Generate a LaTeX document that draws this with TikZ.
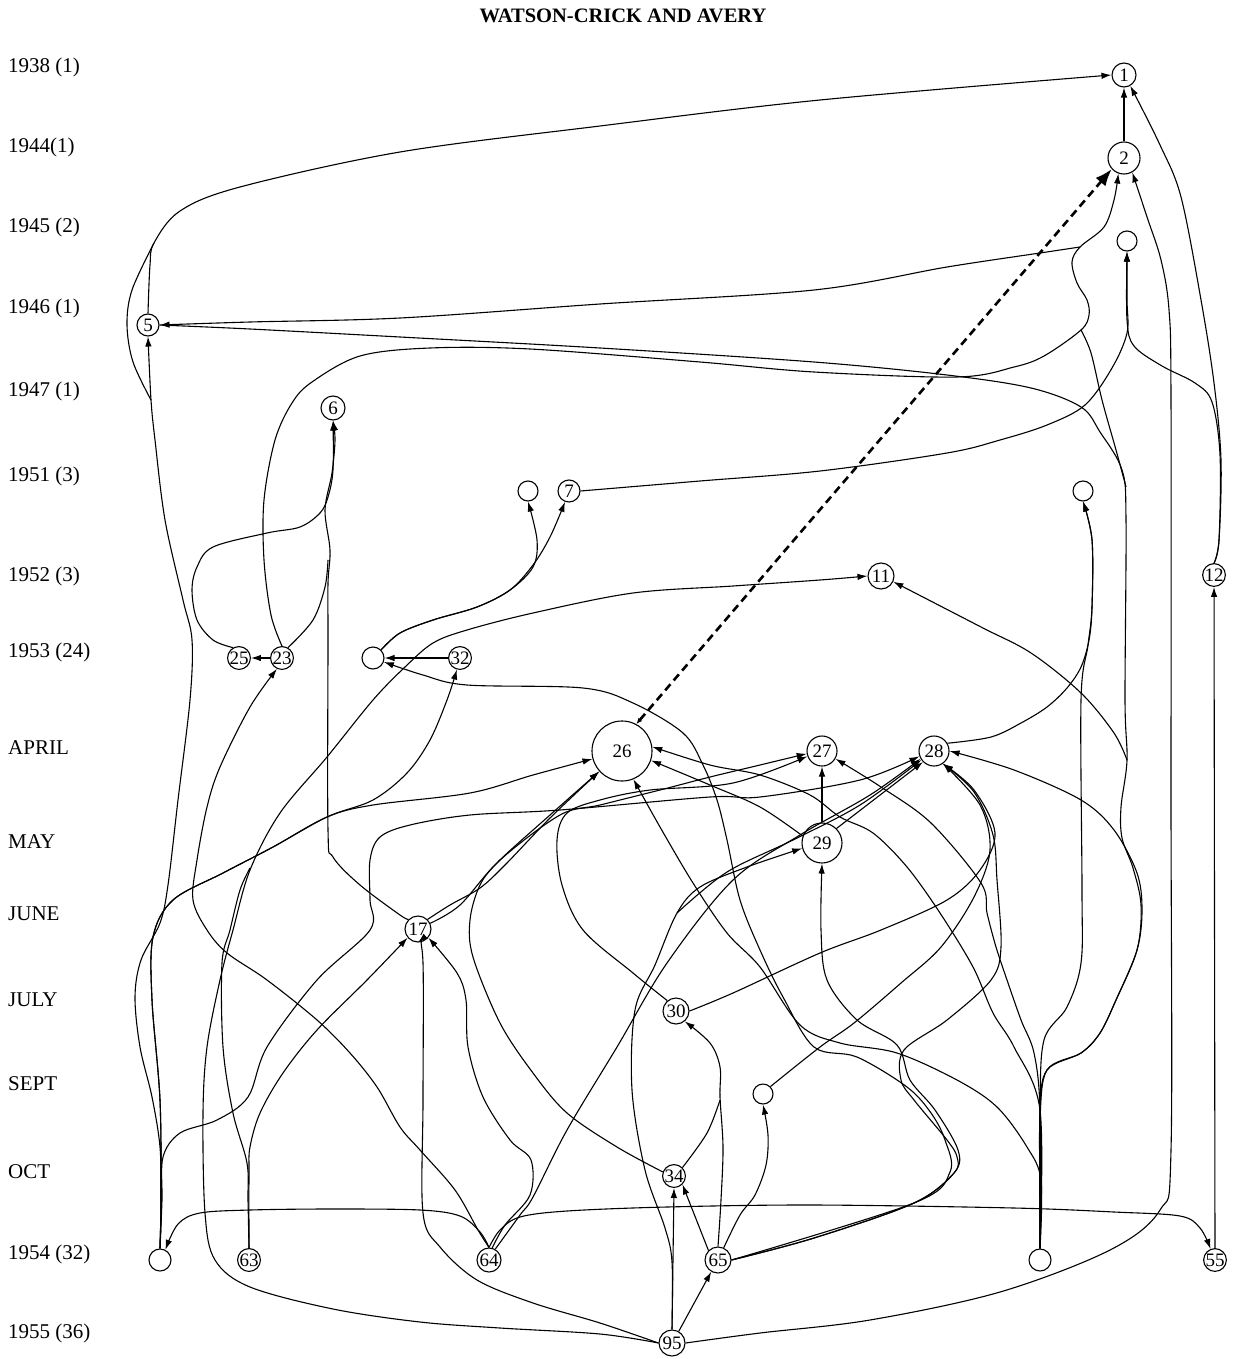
\documentclass[tikz,border=0pt]{standalone}
\usepackage{fontspec}
\setmainfont{Liberation Serif}
\usetikzlibrary{arrows.meta}
\begin{document}
\begin{tikzpicture}[x=1pt,y=-1pt,
  arr/.style={line width=1.1pt,smooth,tension=0.55,-{Latex[length=10pt,width=6.5pt]}},
  ln/.style={line width=1.1pt,smooth,tension=0.55},
  nd/.style={circle,draw,line width=1.1pt,fill=white,inner sep=0pt,font=\fontsize{19}{19}\selectfont},
  rowlab/.style={anchor=west,inner sep=0pt,font=\fontsize{21}{21}\selectfont}]
\useasboundingbox (0,0) rectangle (1234,1359);
\fill[white] (0,0) rectangle (1234,1359);
\node[font=\bfseries\fontsize{20.5}{20.5}\selectfont] (title) at (623,16) {WATSON-CRICK AND AVERY};
% row labels
\node[rowlab] (r1) at (8,67) {1938 (1)};
\node[rowlab] (r2) at (8,147) {1944(1)};
\node[rowlab] (r3) at (8,227) {1945 (2)};
\node[rowlab] (r4) at (8,308) {1946 (1)};
\node[rowlab] (r5) at (8,391) {1947 (1)};
\node[rowlab] (r6) at (8,476) {1951 (3)};
\node[rowlab] (r7) at (8,576) {1952 (3)};
\node[rowlab] (r8) at (8,652) {1953 (24)};
\node[rowlab] (r9) at (8,748) {APRIL};
\node[rowlab] (r10) at (8,842) {MAY};
\node[rowlab] (r11) at (8,914) {JUNE};
\node[rowlab] (r12) at (8,1000) {JULY};
\node[rowlab] (r13) at (8,1084) {SEPT};
\node[rowlab] (r14) at (8,1172) {OCT};
\node[rowlab] (r15) at (8,1254) {1954 (32)};
\node[rowlab] (r16) at (8,1333) {1955 (36)};
% nodes
\node[nd,minimum size=24pt] (n1) at (1124,75) {1};
\node[nd,minimum size=32pt] (n2) at (1124,158) {2};
\node[nd,minimum size=20pt] (nA) at (1127,241) {};
\node[nd,minimum size=22pt] (n5) at (148,325) {5};
\node[nd,minimum size=24pt] (n6) at (333,408) {6};
\node[nd,minimum size=20pt] (nB) at (528,491) {};
\node[nd,minimum size=22pt] (n7) at (569,491) {7};
\node[nd,minimum size=20pt] (nC) at (1083,491) {};
\node[nd,minimum size=26pt] (n11) at (881,576) {11};
\node[nd,minimum size=22pt] (n12) at (1214,575) {12};
\node[nd,minimum size=21pt] (n25) at (239,658) {25};
\node[nd,minimum size=22pt] (n23) at (282,658) {23};
\node[nd,minimum size=22pt] (nD) at (373,658) {};
\node[nd,minimum size=21pt] (n32) at (460,658) {32};
\node[nd,minimum size=60pt] (n26) at (622,751) {26};
\node[nd,minimum size=30pt] (n27) at (822,751) {27};
\node[nd,minimum size=30pt] (n28) at (934,751) {28};
\node[nd,minimum size=40pt] (n29) at (822,843) {29};
\node[nd,minimum size=26pt] (n17) at (418,929) {17};
\node[nd,minimum size=26pt] (n30) at (676,1011) {30};
\node[nd,minimum size=20pt] (nE) at (763,1094) {};
\node[nd,minimum size=22pt] (n34) at (674,1176) {34};
\node[nd,minimum size=22pt] (nF) at (160,1260) {};
\node[nd,minimum size=22pt] (n63) at (249,1260) {63};
\node[nd,minimum size=24pt] (n64) at (489,1260) {64};
\node[nd,minimum size=26pt] (n65) at (718,1260) {65};
\node[nd,minimum size=22pt] (nG) at (1040,1260) {};
\node[nd,minimum size=22pt] (n55) at (1215,1260) {55};
\node[nd,minimum size=26pt] (n95) at (672,1343) {95};
% junction coordinates
\coordinate (j2) at (1080,247);
\coordinate (j3) at (1127,760);
\coordinate (j4) at (1081,330);
\coordinate (j5) at (151,400);
\coordinate (j95) at (677,913);
% ---- top edges
\draw[arr] (n2) -- (n1);
\draw[arr] plot coordinates {(n5.north) (150,265) (154,243) (180,211) (240,187) (400,152) (600,126) (820,100) (n1.west)};
\draw[ln] plot coordinates {(j5) (133,362) (127,325) (132,290) (154,243)};
\draw[arr] plot coordinates {(nF.north) (161,1200) (160,1147) (152,1097) (140,1047) (135,997) (141,960) (160,923) (168,885) (178,800) (190,700) (192,640) (183,600) (165,520) (155,440) (j5) (n5.south)};
\draw[arr] plot coordinates {(n12.north) (1219,540) (1221,460) (1214,383) (1201,300) (1181,197) (1160,145) (n1.-60)};
\draw[arr] plot coordinates {(n12.north) (1219,540) (1220,455) (1212,402) (1195,383) (1162,366) (1134,346) (1127,320) (nA.south)};
\draw[arr] plot coordinates {(n7.east) (700,481) (820,471) (947,453) (1000,440) (1047,425) (1085,405) (1112,368) (1127,333) (1127,300) (nA.south)};
\draw[arr] plot coordinates {(n95.east) (760,1333) (870,1320) (1000,1292) (1110,1250) (1160,1210) (1171,1150) (1171,800) (1171,400) (1169,310) (1161,260) (1147,217) (n2.-60)};
\draw[arr] (n55) -- (n12);
% 64 -> nF, 64 -> 55 (horizontal line)
\draw[arr] plot coordinates {(n64.north) (480,1232) (460,1216) (420,1210) (330,1209) (250,1210) (200,1213) (178,1224) (nF.62)};
\draw[arr] plot coordinates {(n64.north) (500,1230) (520,1217) (567,1211) (667,1207) (814,1205) (1014,1208) (1114,1212) (1180,1216) (1200,1228) (n55.112)};
% dashed 26 -> 2
\draw[line width=2.6pt,dash pattern=on 8pt off 5pt,{Latex[length=6pt,width=5pt]}-{Latex[length=17pt,width=13pt]}] (n26.62) -- (n2.222);
% 23 -> 2 and branches to 5
\draw[arr] plot coordinates {(n23.north) (271,615) (264,560) (264,500) (275,440) (292,403) (312,382) (360,356) (430,348) (530,349) (700,362) (814,372) (957,377) (1014,367) (1044,356) (j4) (1089,315) (1087,300) (1077,283) (1072,262) (j2) (1104,227) (1114,200) (n2.250)};
\draw[arr] plot coordinates {(j2) (1040,253) (947,267) (814,290) (600,304) (400,318) (250,322) (n5.east)};
\draw[ln] plot coordinates {(nG.north) (1040,1200) (1040,1120) (1047,1070) (1081,1053) (1100,1033) (1116,1000) (1137,950) (1141,905) (1133,868) (1122,838) (1121,807) (j3) (1125,700) (1126,520) (1122,470) (1100,432) (1081,407) (1031,388) (947,375) (814,362) (600,348) (400,337) (250,329) (n5.east)};
\draw[ln] plot coordinates {(j4) (1091,353) (1102,400) (1116,450) (1126,487)};
% right side
\draw[arr] plot coordinates {(nG.north) (1040,1200) (1040,1110) (1047,1070) (1081,1053) (1100,1033) (1116,1000) (1137,950) (1142,910) (1137,873) (1114,830) (1081,800) (1014,770) (n28.east)};
\draw[arr] plot coordinates {(nG.north) (1040,1110) (1044,1040) (1067,1007) (1081,963) (1082,890) (1081,700) (1088,645) (1092,607) (1092,540) (nC.south)};
\draw[arr] plot coordinates {(n28.30) (991,737) (1021,723) (1047,707) (1067,688) (1081,667) (1089,640) (1092,607) (1092,540) (nC.south)};
\draw[arr] plot coordinates {(j3) (1114,733) (1081,693) (1031,653) (981,627) (n11.-25)};
\draw[arr] plot coordinates {(nG.north) (1040,1110) (1034,1053) (1021,1020) (1007,980) (996,947) (987,913) (981,883) (931,823) (881,787) (n27.-30)};
\draw[arr] plot coordinates {(nG.north) (1040,1110) (1014,1047) (993,1013) (973,967) (940,913) (907,867) (873,833) (840,817) (810,795) (760,775) (710,765) (n26.8)};
\draw[arr] plot coordinates {(nG.north) (1041,1180) (1027,1147) (997,1107) (957,1080) (897,1053) (840,1043) (800,1025) (760,967) (727,933) (693,883) (660,827) (n26.-68)};
% 29
\draw[arr] (n29) -- (n27);
\draw[arr] (n29.45) -- (n28.225);
\draw[arr] plot coordinates {(n29.160) (760,807) (710,785) (n26.-18)};
% 65 and nE
\draw[arr] plot coordinates {(n65.east) (814,1238) (914,1203) (954,1173) (957,1157) (947,1140) (914,1100) (901,1080) (904,1050) (947,1020) (991,980) (1001,947) (997,880) (993,835) (974,792) (n28.-55)};
\draw[arr] plot coordinates {(nE.45) (820,1047) (854,1023) (901,983) (941,947) (974,897) (990,850) (980,805) (n28.-55)};
\draw[arr] plot coordinates {(n65.65) (740,1215) (755,1195) (766,1165) (768,1135) (nE.south)};
\draw[arr] plot coordinates {(n65.east) (814,1238) (914,1203) (954,1173) (958,1150) (935,1110) (910,1080) (897,1045) (857,1020) (827,980) (821,930) (n29.south)};
\draw[arr] plot coordinates {(n65.east) (914,1203) (950,1172) (945,1140) (931,1113) (907,1087) (857,1057) (814,1047) (783,997) (760,950) (740,900) (727,840) (717,800) (703,765) (683,733) (633,703) (583,688) (467,685) (423,675) (nD.-20)};
% 30
\draw[arr] plot coordinates {(n30.east) (733,993) (820,953) (881,930) (947,900) (980,870) (995,833) (974,790) (n28.-55)};
\draw[arr] plot coordinates {(n30.130) (633,973) (583,930) (562,885) (557,840) (567,813) (600,800) (650,790) (733,783) (n27.200)};
% left upper
\draw[arr] plot coordinates {(n17.135) (400,915) (360,885) (333,857) (328,830) (328,640) (328,583) (330,550) (325,510) (332,473) (335,440) (n6.south)};
\draw[arr] plot coordinates {(n25.120) (213,640) (197,620) (192,590) (197,567) (213,547) (267,533) (300,527) (320,513) (328,497) (333,470) (n6.south)};
\draw[ln] plot coordinates {(n23.60) (313,620) (325,587) (328,560)};
\draw[arr] (n23.west) -- (n25.east);
\draw[arr] plot coordinates {(n64.north) (478,1230) (455,1190) (420,1150) (400,1127) (377,1087) (350,1053) (317,1020) (267,980) (227,953) (207,930) (193,900) (197,860) (207,807) (220,767) (250,707) (n23.-115)};
\draw[arr] plot coordinates {(nF.north) (161,1200) (160,1100) (152,1000) (153,937) (173,900) (223,873) (273,847) (327,817) (373,800) (407,773) (430,740) (447,700) (n32.-105)};
\draw[arr] plot coordinates {(nF.north) (161,1200) (160,1100) (152,1000) (153,937) (173,900) (223,873) (273,847) (327,817) (373,805) (470,793) (533,775) (n26.195)};
\draw[arr] (n32.west) -- (nD.east);
\draw[arr] plot coordinates {(nD.45) (400,633) (433,620) (477,607) (510,590) (533,567) (537,540) (nB.south)};
\draw[arr] plot coordinates {(nD.45) (400,633) (433,620) (477,607) (510,590) (533,565) (550,537) (n7.-110)};
% bottom left
\draw[arr] plot coordinates {(n95.west) (600,1334) (500,1328) (420,1322) (333,1309) (250,1287) (215,1260) (205,1213) (203,1113) (207,1047) (220,980) (233,930) (250,870) (280,813) (327,757) (373,700) (405,667) (433,643) (467,630) (533,613) (633,593) (733,586) (820,580) (n11.west)};
\draw[arr] plot coordinates {(n95.west) (600,1323) (533,1303) (477,1280) (440,1247) (423,1213) (423,1100) (423,963) (n17.south)};
\draw[arr] plot coordinates {(n63.north) (249,1173) (250,1147) (260,1113) (283,1073) (317,1030) (367,980) (n17.-140)};
\draw[ln] plot coordinates {(n63.north) (248,1200) (247,1163) (233,1113) (223,1047) (222,963) (230,930) (240,890) (250,868)};
\draw[arr] plot coordinates {(nF.north) (162,1200) (163,1157) (180,1133) (217,1120) (248,1097) (267,1047) (317,980) (370,930) (370,900) (370,860) (380,837) (410,825) (470,815) (560,810) (710,797) (760,797) (860,780) (n28.200)};
\draw[arr] plot coordinates {(n64.75) (505,1225) (530,1195) (531,1160) (510,1140) (483,1097) (468,1047) (466,1000) (457,973) (n17.-40)};
\draw[arr] plot coordinates {(n34.160) (617,1147) (567,1113) (533,1073) (500,1023) (473,957) (470,920) (480,885) (500,860) (550,815) (n26.222)};
\draw[arr] plot coordinates {(n17.45) (450,905) (480,888) (505,865) (550,818) (n26.222)};
\draw[arr] plot coordinates {(n17.25) (460,905) (500,860) (560,815) (600,805) (660,790) (710,777) (760,765) (n27.190)};
\draw[arr] plot coordinates {(n64.60) (520,1215) (533,1197) (567,1130) (617,1047) (667,963) (733,880) (800,835) (870,795) (n28.210)};
% 95 / 34 / 30
\draw[arr] (n95.60) -- (n65.240);
\draw[arr] (n95.north) -- (n34.south);
\draw[arr] plot coordinates {(n95.north) (672,1262) (665,1228) (645,1170) (632,1090) (635,1010) (655,965) (j95) (700,887) (747,867) (n29.195)};
\draw[arr] plot coordinates {(j95) (727,872) (793,840) (860,805) (n28.215)};
\draw[arr] plot coordinates {(n65.north) (721,1200) (723,1147) (720,1097) (720,1067) (710,1043) (n30.-50)};
\draw[ln] plot coordinates {(n34.45) (707,1133) (720,1100)};
\draw[arr] (n65.135) -- (n34.-45);
\end{tikzpicture}
\end{document}
